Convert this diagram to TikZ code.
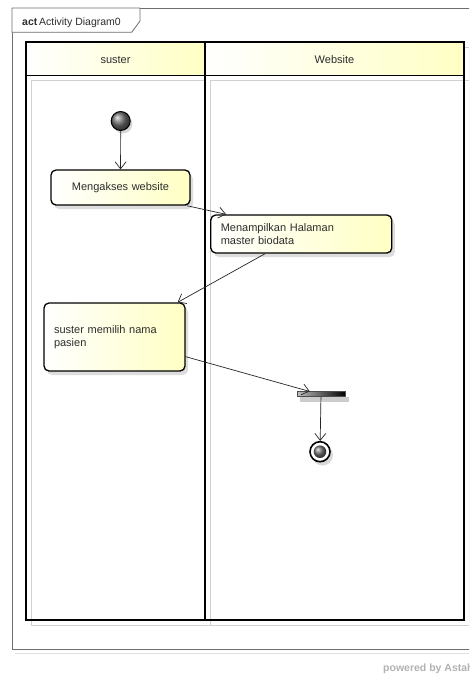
\documentclass[tikz,border=0pt]{standalone}
\usepackage{fontspec}
\setmainfont{Liberation Sans}
\usetikzlibrary{arrows.meta,shadows}
\definecolor{uyel}{RGB}{255,255,196}
\definecolor{txt}{RGB}{45,45,45}
\definecolor{framec}{RGB}{110,110,110}
\begin{document}
\begin{tikzpicture}[x=1pt,y=-1pt,
  lbl/.style={font=\fontsize{11}{13.5}\selectfont, text=txt},
  action/.style={lbl, draw=black, line width=1.3pt, rounded corners=5pt,
     left color=white, right color=uyel, inner xsep=10pt, inner ysep=0pt,
     drop shadow={shadow xshift=3pt, shadow yshift=-4pt, fill=black!22, opacity=0.6}},
  flow/.style={draw=black!85, line width=0.7pt, -{Straight Barb[length=7pt,width=11pt,line width=0.7pt]}},
  lane/.style={draw=black, line width=1.6pt},
  laneshadow/.style={draw=black!18, line width=1pt}
]
\useasboundingbox (0,0) rectangle (469,675);
\begin{scope}
\clip (0,0) rectangle (469,675);
% frame
\draw[black!12, line width=1pt] (15,653) -- (480,653);
\draw[framec, line width=0.8pt, fill=white] (12,8) rectangle (490,649);
\draw[framec, line width=0.8pt, fill=white] (12,8) -- (140,8) -- (140,21) -- (131.7,32.3) -- (12,32.3) -- cycle;
\node[anchor=base west, inner sep=0pt, text=txt, font=\fontsize{10.5}{12}\selectfont] (title) at (22,25.5) {\textbf{act}\,Activity Diagram0};
% lane shadows
\draw[laneshadow] (31,47) rectangle (469,625);
\draw[laneshadow] (210,47) -- (210,625);
\draw[laneshadow] (31,80) -- (469,80);
% lane headers
\fill[left color=white, right color=uyel] (26,42) rectangle (205,75.5);
\fill[left color=white, right color=uyel] (205,42) rectangle (464,75.5);
\fill[white] (26,75.5) rectangle (464,620);
\draw[laneshadow] (31,80) -- (205,80);
\draw[laneshadow] (210,80) -- (464,80);
\draw[laneshadow] (31,80) -- (31,620);
\draw[laneshadow] (210,80) -- (210,620);
\draw[laneshadow] (31,625) -- (469,625);
\draw[lane] (26,42) rectangle (464,620);
\draw[lane] (205,42) -- (205,620);
\draw[lane] (26,75.5) -- (464,75.5);
\node[lbl] (h1) at (115.5,60) {suster};
\node[lbl] (h2) at (334.5,60) {Website};
% nodes
\fill[black!15] (123,124) circle (9.5);
\node[circle, minimum size=19pt, inner sep=0pt, draw=black, line width=1pt, shading=ball, ball color=black!55] (init) at (120.7,121) {};
\node[action, minimum width=139pt, minimum height=35pt, text width=119pt, align=center] (a1) at (120.5,187.5) {Mengakses website};
\node[action, minimum width=181pt, minimum height=38pt, text width=161pt, align=left] (a2) at (301.3,234) {Menampilkan Halaman\\master biodata};
\node[action, minimum width=141pt, minimum height=68pt, text width=121pt, align=left] (a3) at (114.5,337) {suster memilih nama\\pasien};
\fill[black!20] (300,397) rectangle (349,402);
\node[rectangle, minimum width=48pt, minimum height=5pt, inner sep=0pt, draw=black!70, line width=0.5pt, left color=black!25, right color=black] (fork) at (321,394.2) {};
\fill[black!15] (322.5,455) circle (10.5);
\node[circle, minimum size=20pt, inner sep=0pt, draw=black, line width=1.6pt, fill=white] (final) at (320,451.7) {};
\shade[ball color=black!55] (final.center) circle (6.3);
% flows
\draw[flow] (init) -- (a1);
\draw[flow] ([xshift=-4pt]a1.south east) -- ([xshift=16pt]a2.north west);
\draw[flow] ([xshift=55pt]a2.south west) -- ([xshift=-8pt]a3.north east);
\draw[flow] ([yshift=15pt]a3.south east) -- ([xshift=13pt]fork.north west);
\draw[flow] (fork) -- (final);
% watermark
\node[anchor=base west, inner sep=0pt, text=black!30, font=\fontsize{10.5}{12}\selectfont\bfseries] (wm) at (383,671.5) {powered by Astah};
\end{scope}
\end{tikzpicture}
\end{document}
